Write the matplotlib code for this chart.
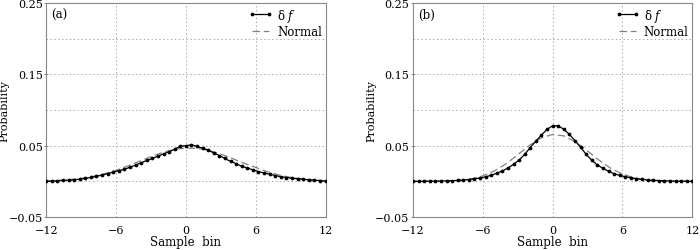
import numpy as np
import matplotlib
matplotlib.use("Agg")
import matplotlib.pyplot as plt

plt.rcParams['font.family'] = ['DejaVu Serif']
plt.rcParams['mathtext.fontset'] = 'dejavuserif'
plt.rcParams['axes.unicode_minus'] = True

# sample bins (51 points from -12 to 12)
sample_bin = np.linspace(-12, 12, 51)
normal_bin = np.arange(-12, 13)

df_a = [0.0000, 0.0005, 0.0009, 0.0014, 0.0018, 0.0023, 0.0032, 0.0043, 0.0056, 0.0071,
        0.0090, 0.0110, 0.0130, 0.0152, 0.0170, 0.0200, 0.0228, 0.0262, 0.0294, 0.0322,
        0.0354, 0.0386, 0.0415, 0.0450, 0.0495, 0.0500, 0.0514, 0.0490, 0.0466, 0.0440,
        0.0398, 0.0363, 0.0322, 0.0280, 0.0250, 0.0212, 0.0188, 0.0162, 0.0138, 0.0119,
        0.0100, 0.0083, 0.0066, 0.0055, 0.0046, 0.0037, 0.0029, 0.0023, 0.0017, 0.0012,
        0.0003]
normal_a = [0.0007, 0.0014, 0.0025, 0.0043, 0.0070, 0.0107, 0.0156, 0.0215, 0.0281, 0.0347,
            0.0406, 0.0449, 0.0469, 0.0464, 0.0434, 0.0384, 0.0321, 0.0254, 0.0197, 0.0135,
            0.0091, 0.0057, 0.0035, 0.0020, 0.0010]

df_b = [0.0000, 0.0001, 0.0002, 0.0003, 0.0004, 0.0005, 0.0008, 0.0010, 0.0014, 0.0019,
        0.0027, 0.0037, 0.0048, 0.0065, 0.0086, 0.0116, 0.0146, 0.0188, 0.0240, 0.0300,
        0.0380, 0.0475, 0.0566, 0.0650, 0.0730, 0.0780, 0.0780, 0.0730, 0.0660, 0.0570,
        0.0480, 0.0378, 0.0297, 0.0231, 0.0184, 0.0142, 0.0108, 0.0085, 0.0066, 0.0052,
        0.0038, 0.0028, 0.0020, 0.0015, 0.0012, 0.0009, 0.0006, 0.0004, 0.0003, 0.0002,
        0.0001]
normal_b = [0.0000, 0.0001, 0.0002, 0.0006, 0.0016, 0.0037, 0.0078, 0.0147, 0.0248, 0.0374,
            0.0504, 0.0609, 0.0659, 0.0637, 0.0551, 0.0427, 0.0296, 0.0183, 0.0102, 0.0051,
            0.0022, 0.0009, 0.0003, 0.0001, 0.0000]

panels = [("(a)", df_a, normal_a), ("(b)", df_b, normal_b)]
xticks = [-12, -6, 0, 6, 12]
yticks = [-0.05, 0.05, 0.15, 0.25]
yminor = [0.0, 0.1, 0.2]

fs = 8
fig = plt.figure(figsize=(7.0, 2.51), dpi=100)
lefts = [0.066, 0.590]
for k, (tag, dfv, nv) in enumerate(panels):
    ax = fig.add_axes([lefts[k], 0.131, 0.399, 0.853])
    ax.plot(normal_bin, nv, color='#808080', ls=(0, (6, 3)), lw=0.9, label='Normal', zorder=2)
    ax.plot(sample_bin, dfv, color='black', lw=0.9, marker='o', ms=1.7, label='δ $f$', zorder=3)
    ax.set_xlim(-12, 12)
    ax.set_ylim(-0.05, 0.25)
    ax.set_xticks(xticks)
    ax.set_yticks(yticks)
    ax.set_yticks(yminor, minor=True)
    ax.set_yticklabels(['\u22120.05', '0.05', '0.15', '0.25'])
    ax.set_xticklabels(['\u221212', '\u22126', '0', '6', '12'])
    ax.tick_params(which='both', direction='inout', length=3, width=0.6,
                   color='#777777', labelsize=fs, pad=1)
    ax.tick_params(axis='x', length=0, pad=6)
    ax.tick_params(which='minor', length=0)
    ax.grid(True, which='both', color='#aaaaaa', ls=(0, (1.5, 2.5)), lw=0.7)
    for s in ax.spines.values():
        s.set_color('#888888')
        s.set_linewidth(0.8)
    ax.set_xlabel('Sample  bin', fontsize=fs + 0.5, labelpad=0)
    ax.set_ylabel('Probability', fontsize=fs)
    ax.yaxis.set_label_coords(-0.13, 0.5)
    ax.text(0.018, 0.975, tag, transform=ax.transAxes, fontsize=fs + 0.5, va='top', ha='left')
    h, l = ax.get_legend_handles_labels()
    ax.legend(h[::-1], l[::-1], loc='upper right', frameon=False, fontsize=fs + 0.5,
              numpoints=2, handlelength=2.0, handletextpad=0.4, labelspacing=0.1,
              borderaxespad=0.2, borderpad=0.1)

fig.savefig('out.png', dpi=100)
